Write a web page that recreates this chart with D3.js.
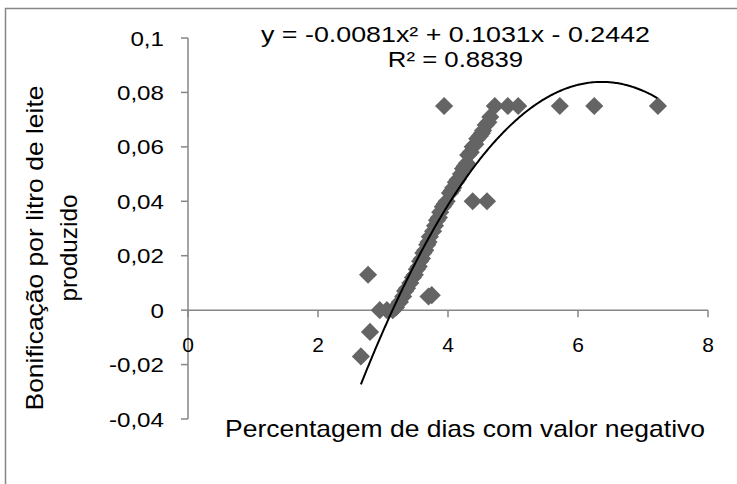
<!DOCTYPE html>
<html>
<head>
<meta charset="utf-8">
<script src="https://cdn.jsdelivr.net/npm/d3@7"></script>
<style>
  body { margin: 0; background: #fff; }
  svg text { font-family: "Liberation Sans", Arial, sans-serif; fill: #000; }
</style>
</head>
<body>
<svg id="chart" width="737" height="484"></svg>
<script>
// percentagem de dias com valor negativo
const pctDias = [
  2.66, 2.77, 2.80, 2.95, 3.06, 3.15, 3.20, 3.26, 3.31, 3.34, 3.37, 3.42, 3.46,
  3.49, 3.52, 3.55, 3.57, 3.60, 3.62, 3.65, 3.68, 3.70, 3.72, 3.75, 3.70, 3.77,
  3.80, 3.83, 3.86, 3.88, 3.92, 3.95, 3.98, 4.03, 4.06, 4.08, 4.12, 4.15, 4.20,
  4.23, 4.26, 4.29, 4.31, 4.35, 4.38, 4.42, 4.45, 4.49, 4.52, 4.54, 4.58, 4.62,
  4.65, 4.72, 4.92, 5.08, 3.94, 4.38, 4.60, 5.72, 6.25, 7.23
];
// bonificação por litro de leite produzido
const bonif = [
  -0.017, 0.013, -0.008, 0.000, 0.000, 0.000, 0.001, 0.003, 0.005, 0.007, 0.008, 0.010, 0.012,
  0.013, 0.015, 0.016, 0.018, 0.019, 0.021, 0.022, 0.024, 0.005, 0.027, 0.0055, 0.025, 0.029,
  0.031, 0.033, 0.034, 0.036, 0.038, 0.039, 0.040, 0.043, 0.044, 0.045, 0.047, 0.048, 0.050,
  0.052, 0.053, 0.054, 0.057, 0.058, 0.060, 0.061, 0.063, 0.064, 0.065, 0.066, 0.068, 0.069,
  0.071, 0.075, 0.075, 0.075, 0.075, 0.040, 0.040, 0.075, 0.075, 0.075
];

const xTicks = [0, 2, 4, 6, 8];
const yTicks = [-0.04, -0.02, 0, 0.02, 0.04, 0.06, 0.08, 0.1];
const yTickLabels = ['-0,04', '-0,02', '0', '0,02', '0,04', '0,06', '0,08', '0,1'];

// polynomial trendline (order 2)
const coef = [-0.2442, 0.1031, -0.0081];
const eqText = 'y = -0.0081x² + 0.1031x - 0.2442';
const r2Text = 'R² = 0.8839';

const svg = d3.select('#chart');
const axisColor = '#868686';

const x = d3.scaleLinear().domain([0, 8]).range([188, 708]);
const y = d3.scaleLinear().domain([-0.04, 0.1]).range([419, 38]);

// stretch text horizontally like the original rendering
function widen(sel, k) {
  sel.each(function() {
    const w = this.getComputedTextLength();
    d3.select(this).attr('textLength', w * k).attr('lengthAdjust', 'spacingAndGlyphs');
  });
}

// outer chart border (top and left visible)
svg.append('path')
  .attr('d', 'M5.5,484 L5.5,8.5 L737,8.5')
  .attr('fill', 'none')
  .attr('stroke', axisColor)
  .attr('stroke-width', 1.5);

// y axis
const yAxis = svg.append('g');
yAxis.append('line')
  .attr('x1', x(0)).attr('x2', x(0))
  .attr('y1', y(0.1)).attr('y2', y(-0.04))
  .attr('stroke', axisColor).attr('stroke-width', 1.5);
yAxis.selectAll('.ytick')
  .data(yTicks)
  .join('line')
  .attr('x1', x(0) - 7).attr('x2', x(0))
  .attr('y1', d => y(d)).attr('y2', d => y(d))
  .attr('stroke', axisColor).attr('stroke-width', 1.5);
yAxis.selectAll('text')
  .data(yTicks)
  .join('text')
  .attr('x', 164)
  .attr('y', d => y(d))
  .attr('dy', '0.36em')
  .attr('text-anchor', 'end')
  .attr('font-size', 21)
  .text((d, i) => yTickLabels[i])
  .call(widen, 1.15);

// x axis at y = 0
const xAxis = svg.append('g');
xAxis.append('line')
  .attr('x1', x(0)).attr('x2', x(8))
  .attr('y1', y(0)).attr('y2', y(0))
  .attr('stroke', axisColor).attr('stroke-width', 1.5);
xAxis.selectAll('.xtick')
  .data(xTicks)
  .join('line')
  .attr('x1', d => x(d)).attr('x2', d => x(d))
  .attr('y1', y(0)).attr('y2', y(0) + 7)
  .attr('stroke', axisColor).attr('stroke-width', 1.5);
xAxis.selectAll('text')
  .data(xTicks)
  .join('text')
  .attr('x', d => x(d))
  .attr('y', y(0) + 42)
  .attr('text-anchor', 'middle')
  .attr('font-size', 21)
  .text(d => d);

// markers
svg.append('g')
  .selectAll('path')
  .data(pctDias.map((d, i) => [d, bonif[i]]))
  .join('path')
  .attr('transform', d => `translate(${x(d[0])},${y(d[1])})`)
  .attr('d', d3.symbol().type(d3.symbolDiamond2).size(210))
  .attr('fill', '#646464');

// trendline
const xs = d3.range(d3.min(pctDias), d3.max(pctDias) + 0.001, 0.02);
svg.append('path')
  .datum(xs)
  .attr('fill', 'none')
  .attr('stroke', '#000')
  .attr('stroke-width', 2)
  .attr('d', d3.line()
    .x(d => x(d))
    .y(d => y(coef[0] + coef[1] * d + coef[2] * d * d)));

// equation labels
svg.append('text')
  .attr('x', 455.5).attr('y', 42)
  .attr('text-anchor', 'middle')
  .attr('font-size', 22)
  .attr('textLength', 389).attr('lengthAdjust', 'spacingAndGlyphs')
  .text(eqText);
svg.append('text')
  .attr('x', 455.5).attr('y', 67)
  .attr('text-anchor', 'middle')
  .attr('font-size', 22)
  .call(widen, 1.17)
  .text(r2Text)
  .call(widen, 1.17);

// axis titles
svg.append('text')
  .attr('x', 465).attr('y', 437)
  .attr('text-anchor', 'middle')
  .attr('font-size', 24)
  .attr('textLength', 480).attr('lengthAdjust', 'spacingAndGlyphs')
  .text('Percentagem de dias com valor negativo');

const yTitle = svg.append('text')
  .attr('transform', 'translate(0,248) rotate(-90)')
  .attr('text-anchor', 'middle')
  .attr('font-size', 24);
yTitle.append('tspan').attr('x', 0).attr('y', 43)
  .attr('textLength', 325).attr('lengthAdjust', 'spacingAndGlyphs')
  .text('Bonificação por litro de leite');
yTitle.append('tspan').attr('x', 0).attr('y', 77)
  .attr('textLength', 107).attr('lengthAdjust', 'spacingAndGlyphs')
  .text('produzido');
</script>
</body>
</html>
